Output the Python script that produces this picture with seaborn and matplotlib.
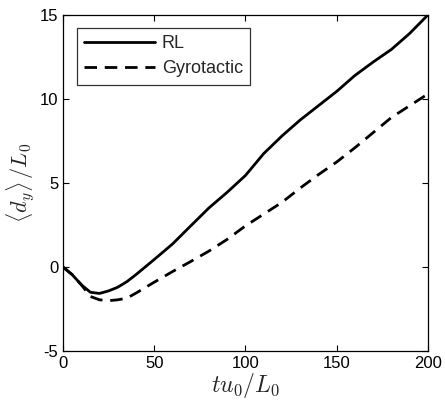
import numpy as np
import pandas as pd
import matplotlib
matplotlib.use("Agg")
import matplotlib.pyplot as plt
import seaborn as sns

# values
t = [0, 5, 10, 15, 20, 25, 30, 35, 40, 50, 60, 70, 80, 90, 100,
     110, 120, 130, 140, 150, 160, 170, 180, 190, 200]
rl = [0.0, -0.45, -1.05, -1.5, -1.57, -1.42, -1.2, -0.87, -0.45, 0.45, 1.37, 2.45, 3.52, 4.45, 5.45,
      6.75, 7.8, 8.75, 9.6, 10.45, 11.4, 12.2, 12.95, 13.9, 15.0]
gyro = [0.0, -0.45, -1.05, -1.75, -1.95, -2.0, -1.95, -1.85, -1.55, -0.9, -0.27, 0.33, 0.95, 1.65, 2.45,
        3.15, 3.85, 4.7, 5.5, 6.25, 7.1, 8.0, 8.9, 9.6, 10.3]
series_names = ["RL", "Gyrotactic"]

df = pd.DataFrame({
    "t": t + t,
    "d": rl + gyro,
    "model": [series_names[0]] * len(t) + [series_names[1]] * len(t),
})

sns.set_style("ticks")
plt.rcParams["font.family"] = ["Liberation Sans", "DejaVu Sans"]
plt.rcParams["mathtext.fontset"] = "cm"
plt.rcParams["axes.unicode_minus"] = False

fig = plt.figure(figsize=(4.45, 4.04), dpi=100)
ax = fig.add_axes([0.1416, 0.131, 0.82, 0.832])

sns.lineplot(data=df, x="t", y="d", style="model", style_order=series_names,
             dashes={"RL": "", "Gyrotactic": (4.5, 2.8)},
             color="black", linewidth=2.0, ax=ax)

ax.set_xlim(0, 200)
ax.set_ylim(-5, 15)
ax.set_xticks([0, 50, 100, 150, 200])
ax.set_yticks([-5, 0, 5, 10, 15])
ax.tick_params(direction="in", top=True, right=True, labelsize=12, length=4, width=0.8,
               colors="black")
for s in ax.spines.values():
    s.set_linewidth(0.9)
    s.set_color("black")

ax.set_xlabel(r"$tu_0/L_0$", fontsize=17, labelpad=0)
ax.set_ylabel(r"$\langle d_y \rangle\, / L_0$", fontsize=16, labelpad=2)

leg = ax.legend(loc="upper left", fontsize=13, frameon=True, fancybox=False,
                edgecolor="black", handlelength=3.9, handletextpad=0.4,
                borderpad=0.4, labelspacing=0.45, borderaxespad=0,
                bbox_to_anchor=(0.038, 0.961))
leg.get_frame().set_linewidth(0.9)
leg.set_title(None)

fig.savefig("out.png", dpi=100)
